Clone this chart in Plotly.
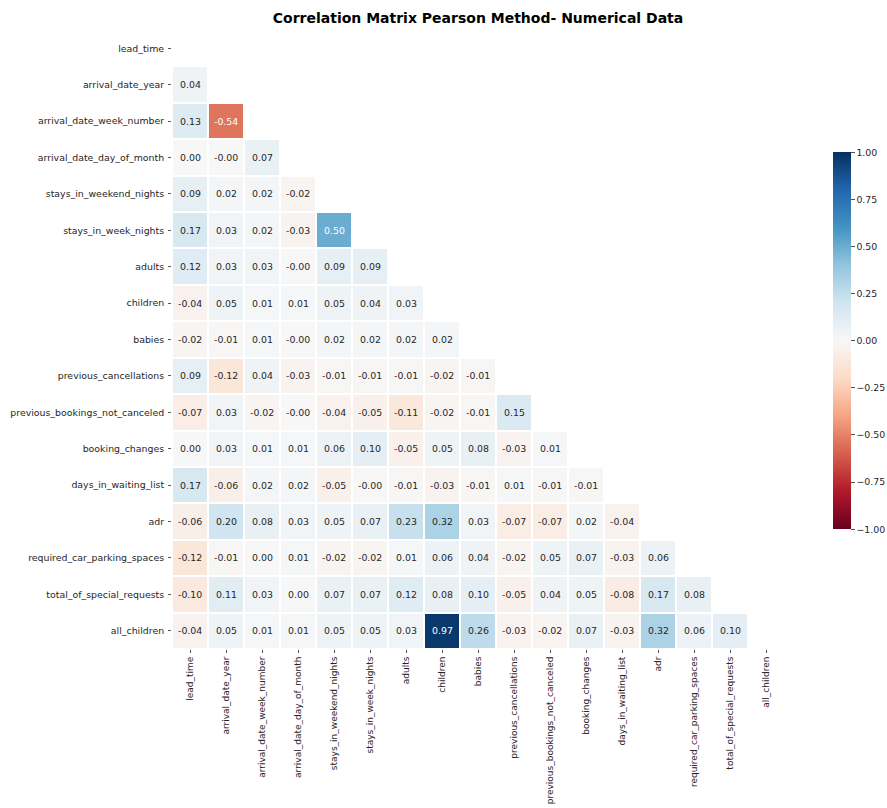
import plotly.graph_objects as go
import plotly.colors as pc

features = [
    "lead_time", "arrival_date_year", "arrival_date_week_number",
    "arrival_date_day_of_month", "stays_in_weekend_nights", "stays_in_week_nights",
    "adults", "children", "babies", "previous_cancellations",
    "previous_bookings_not_canceled", "booking_changes", "days_in_waiting_list",
    "adr", "required_car_parking_spaces", "total_of_special_requests", "all_children",
]

# Lower-triangle Pearson coefficients, one row per feature (diagonal and above masked)
row_lead_time = []
row_arrival_date_year = [0.04]
row_arrival_date_week_number = [0.13, -0.54]
row_arrival_date_day_of_month = [0.00, -0.0, 0.07]
row_stays_in_weekend_nights = [0.09, 0.02, 0.02, -0.02]
row_stays_in_week_nights = [0.17, 0.03, 0.02, -0.03, 0.50]
row_adults = [0.12, 0.03, 0.03, -0.0, 0.09, 0.09]
row_children = [-0.04, 0.05, 0.01, 0.01, 0.05, 0.04, 0.03]
row_babies = [-0.02, -0.01, 0.01, -0.0, 0.02, 0.02, 0.02, 0.02]
row_previous_cancellations = [0.09, -0.12, 0.04, -0.03, -0.01, -0.01, -0.01, -0.02, -0.01]
row_previous_bookings_not_canceled = [-0.07, 0.03, -0.02, -0.0, -0.04, -0.05, -0.11, -0.02, -0.01, 0.15]
row_booking_changes = [0.00, 0.03, 0.01, 0.01, 0.06, 0.10, -0.05, 0.05, 0.08, -0.03, 0.01]
row_days_in_waiting_list = [0.17, -0.06, 0.02, 0.02, -0.05, -0.0, -0.01, -0.03, -0.01, 0.01, -0.01, -0.01]
row_adr = [-0.06, 0.20, 0.08, 0.03, 0.05, 0.07, 0.23, 0.32, 0.03, -0.07, -0.07, 0.02, -0.04]
row_required_car_parking_spaces = [-0.12, -0.01, 0.00, 0.01, -0.02, -0.02, 0.01, 0.06, 0.04, -0.02, 0.05, 0.07, -0.03, 0.06]
row_total_of_special_requests = [-0.10, 0.11, 0.03, 0.00, 0.07, 0.07, 0.12, 0.08, 0.10, -0.05, 0.04, 0.05, -0.08, 0.17, 0.08]
row_all_children = [-0.04, 0.05, 0.01, 0.01, 0.05, 0.05, 0.03, 0.97, 0.26, -0.03, -0.02, 0.07, -0.03, 0.32, 0.06, 0.10]

rows = [
    row_lead_time, row_arrival_date_year, row_arrival_date_week_number,
    row_arrival_date_day_of_month, row_stays_in_weekend_nights, row_stays_in_week_nights,
    row_adults, row_children, row_babies, row_previous_cancellations,
    row_previous_bookings_not_canceled, row_booking_changes, row_days_in_waiting_list,
    row_adr, row_required_car_parking_spaces, row_total_of_special_requests, row_all_children,
]

colorbar_ticks = [-1.0, -0.75, -0.5, -0.25, 0.0, 0.25, 0.5, 0.75, 1.0]

W, H = 887, 808
FS = 9.4

n = len(features)
z = [[(r[j] if j < len(r) else None) for j in range(n)] for r in rows]

rdbu = pc.diverging.RdBu
scale = [[i / (len(rdbu) - 1), c] for i, c in enumerate(rdbu)]

fig = go.Figure(go.Heatmap(
    z=z, x=features, y=features,
    zmin=-1, zmax=1, colorscale=scale,
    xgap=2, ygap=2, hoverongaps=False,
    colorbar=dict(
        thickness=18, len=377, lenmode="pixels",
        xref="container", x=833 / W, xanchor="left",
        yref="paper", y=0.498, yanchor="middle",
        xpad=0, ypad=0,
        outlinewidth=0, tickvals=colorbar_ticks, tickformat=".2f",
        ticks="outside", ticklen=4, tickcolor="#555",
        tickfont=dict(family="DejaVu Sans", size=FS, color="#262626"),
    ),
))

annotations = []
for i, r in enumerate(rows):
    for j, v in enumerate(r):
        annotations.append(dict(
            x=features[j], y=features[i], xref="x", yref="y",
            text=f"{v:.2f}", showarrow=False,
            font=dict(family="DejaVu Sans", size=FS,
                      color="white" if abs(v) > 0.4 else "#262626"),
        ))

fig.update_layout(
    width=W, height=H,
    margin=dict(l=172, r=103, t=30, b=159),
    paper_bgcolor="white", plot_bgcolor="white",
    title=dict(text="<b>Correlation Matrix Pearson Method- Numerical Data</b>",
               x=0.5, xref="paper", y=1 - 18 / H, yref="container",
               xanchor="center", yanchor="middle",
               font=dict(family="DejaVu Sans", size=14, color="black")),
    annotations=annotations,
    font=dict(family="DejaVu Sans", size=FS, color="#262626"),
)
fig.update_xaxes(tickangle=-90, ticks="outside", ticklen=3, tickcolor="#555",
                 showgrid=False, zeroline=False, automargin=False,
                 tickfont=dict(size=9.0))
fig.update_yaxes(autorange="reversed", ticks="outside", ticklen=3, tickcolor="#555",
                 showgrid=False, zeroline=False, automargin=False,
                 ticklabelstandoff=2, tickfont=dict(size=FS))

fig.write_html("out.html")
